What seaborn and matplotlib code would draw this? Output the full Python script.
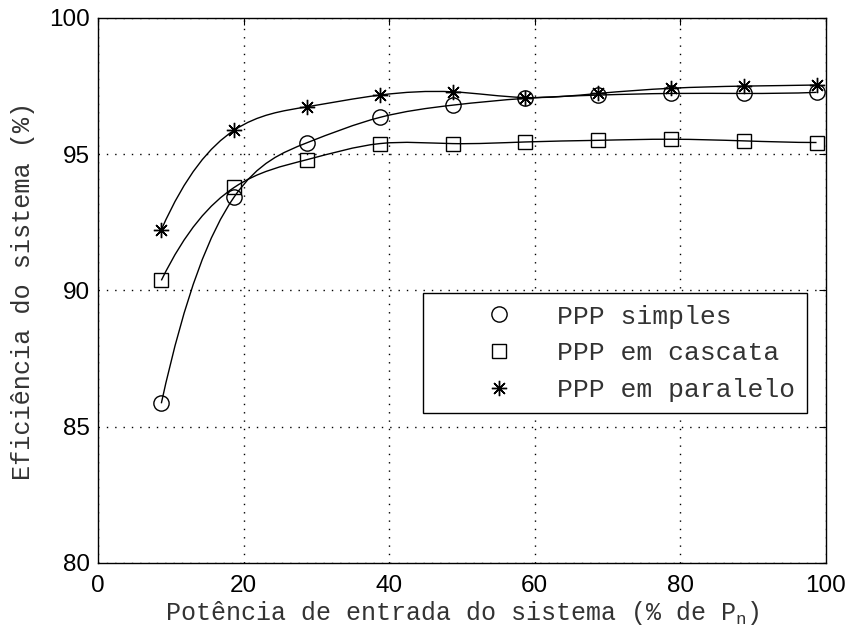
import numpy as np
import matplotlib
matplotlib.use("Agg")
import matplotlib.pyplot as plt
from matplotlib.path import Path
from matplotlib.patches import PathPatch
import seaborn as sns

# ================================
# DATA
# ================================
potencia = [8.7, 18.7, 28.7, 38.7, 48.7, 58.7, 68.7, 78.7, 88.7, 98.7]
ef_simples = [85.86, 93.43, 95.42, 96.35, 96.80, 97.05, 97.17, 97.23, 97.23, 97.27]
ef_cascata = [90.37, 93.78, 94.80, 95.39, 95.39, 95.45, 95.51, 95.55, 95.49, 95.43]
ef_paralelo = [92.23, 95.88, 96.74, 97.17, 97.29, 97.08, 97.23, 97.42, 97.50, 97.54]

series_names = ['PPP simples', 'PPP em cascata', 'PPP em paralelo']
series_vals = [ef_simples, ef_cascata, ef_paralelo]
series_markers = ['o', 's', (8, 2, 0)]

x_ticks = [0, 20, 40, 60, 80, 100]
y_ticks = [80, 85, 90, 95, 100]


def spline_path(x, y):
    """not-a-knot cubic spline through the points, as bezier segments"""
    x = np.asarray(x, float); y = np.asarray(y, float)
    n = len(x); h = x[1] - x[0]
    A = np.zeros((n, n)); b = np.zeros(n)
    A[0, :3] = [1, -2, 1]
    A[-1, -3:] = [1, -2, 1]
    for i in range(1, n - 1):
        A[i, i - 1:i + 2] = [1, 4, 1]
        b[i] = 6 / h**2 * (y[i - 1] - 2 * y[i] + y[i + 1])
    M = np.linalg.solve(A, b)
    d = np.empty(n)
    d[:-1] = (y[1:] - y[:-1]) / h - h * (2 * M[:-1] + M[1:]) / 6
    d[-1] = (y[-1] - y[-2]) / h + h * (M[-2] + 2 * M[-1]) / 6
    verts = [(x[0], y[0])]; codes = [Path.MOVETO]
    for i in range(n - 1):
        verts += [(x[i] + h / 3, y[i] + h / 3 * d[i]),
                  (x[i + 1] - h / 3, y[i + 1] - h / 3 * d[i + 1]),
                  (x[i + 1], y[i + 1])]
        codes += [Path.CURVE4] * 3
    return Path(verts, codes)


sns.set_style('white')
plt.rcParams['font.family'] = ['Liberation Mono', 'DejaVu Sans']
plt.rcParams['mathtext.fontset'] = 'custom'
plt.rcParams['mathtext.rm'] = 'Liberation Mono'
plt.rcParams['mathtext.it'] = 'Liberation Mono'

txt_color = '#333333'

fig = plt.figure(figsize=(8.47, 6.35), dpi=100)
ax = fig.add_axes([0.1157, 0.1134, 0.8595, 0.8583])

# smooth curves
for vals in series_vals:
    ax.add_patch(PathPatch(spline_path(potencia, vals), facecolor='none',
                           edgecolor='black', lw=1.0, zorder=2))

# markers
marker_sizes = [11, 9.5, 11]
for name, vals, mk, ms in zip(series_names, series_vals, series_markers, marker_sizes):
    sns.lineplot(x=potencia, y=vals, ax=ax, linestyle='none', marker=mk,
                 markersize=ms, markerfacecolor='none', markeredgecolor='black',
                 markeredgewidth=1.0, color='black', label=name, zorder=3)

ax.set_xlim(0, 100); ax.set_ylim(80, 100)
ax.set_xticks(x_ticks); ax.set_yticks(y_ticks)
ax.tick_params(direction='in', length=5, width=0.8, top=True, right=True,
               colors='black', labelsize=17.5, labelfontfamily='Liberation Sans')
ax.tick_params(axis='x', pad=9)
ax.tick_params(axis='y', pad=6)
ax.grid(True, color='black', linestyle=(0, (1, 5)), linewidth=1.0)
for sp in ax.spines.values():
    sp.set_color('black'); sp.set_linewidth(1.0)

ax.set_xlabel('Potência de entrada do sistema (% de P$_{\\mathrm{n}}$)',
              fontsize=18, labelpad=1, color=txt_color)
ax.set_ylabel('Eficiência do sistema (%)', fontsize=18.2, labelpad=10,
              color=txt_color)

leg = ax.legend(loc='upper left', bbox_to_anchor=(0.446, 0.495), fontsize=19,
                frameon=True, fancybox=False, framealpha=1, edgecolor='black',
                handlelength=4.9, handletextpad=-0.23, labelspacing=0.48,
                borderpad=0.43, borderaxespad=0, labelcolor=txt_color)
leg.get_frame().set_linewidth(1.0)

plt.savefig('out.png', dpi=100)
plt.close()
